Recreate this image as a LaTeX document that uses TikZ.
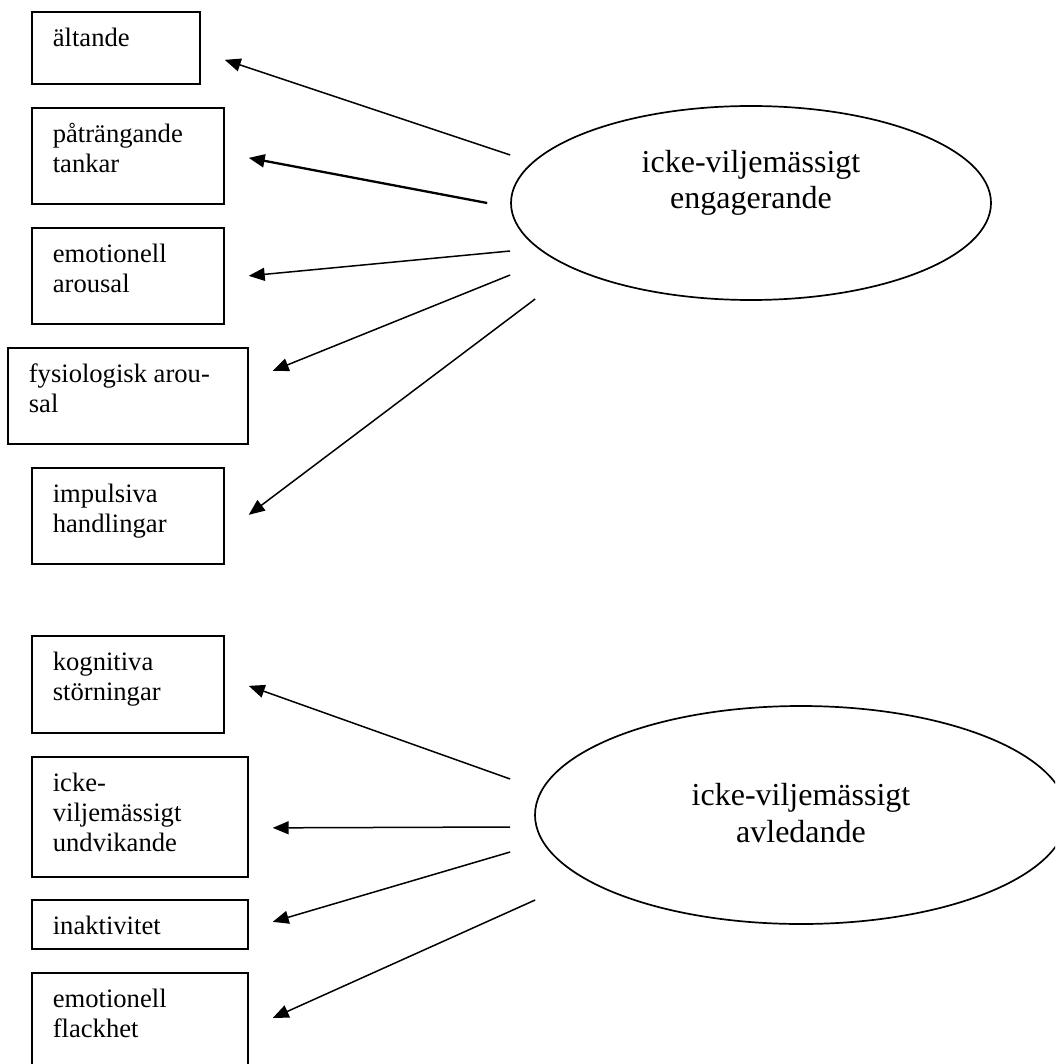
\documentclass[tikz,border=0pt]{standalone}
\usepackage{fontspec}
\setmainfont{Liberation Serif}
\usetikzlibrary{arrows.meta,shapes.geometric}

\newcommand{\cell}[3]{\parbox[c][#2][t]{#1}{\raggedright\vspace*{14pt}\strut #3}}

\begin{document}
\begin{tikzpicture}[x=1pt,y=-1pt,line width=1.5pt,
  >={Triangle[length=16pt,width=13pt]},
  box/.style={draw,rectangle,anchor=north west,inner xsep=21pt,inner ysep=0pt,
    line width=1.7pt,font=\fontsize{26.6}{30}\selectfont},
  oval/.style={draw,ellipse,inner sep=0pt,line width=1.7pt},
  ovaltext/.style={align=center,font=\fontsize{32}{36.5}\selectfont}]
\useasboundingbox (0,0) rectangle (1055,1064);
\clip (0,0) rectangle (1055,1064);

\node[box] (s_1) at (31,11)  {\cell{126pt}{72pt}{ältande}};
\node[box] (s_2) at (31,107) {\cell{150pt}{96pt}{påträngande\\tankar}};
\node[box] (s_3) at (31,227) {\cell{150pt}{96pt}{emotionell\\arousal}};
\node[box] (s_4) at (7,347)  {\cell{198pt}{96pt}{fysiologisk arou-\\sal}};
\node[box] (s_5) at (31,467) {\cell{150pt}{96pt}{impulsiva\\handlingar}};

\node[box] (s_6) at (31,635) {\cell{150pt}{97pt}{kognitiva\\störningar}};
\node[box] (s_7) at (31,756) {\cell{174pt}{120pt}{icke-\\viljemässigt\\undvikande}};
\node[box] (s_8) at (31,899) {\cell{174pt}{49pt}{inaktivitet}};
\node[box] (s_9) at (31,972) {\cell{174pt}{150pt}{emotionell\\flackhet}};

\node[oval,minimum width=480pt,minimum height=194pt] (e_1) at (751,203) {};
\node[ovaltext] at ([yshift=20pt]e_1.center) {icke-viljemässigt\\engagerande};
\node[oval,minimum width=532pt,minimum height=218pt] (e_2) at (801,815) {};
\node[ovaltext] at ([yshift=2pt]e_2.center) {icke-viljemässigt\\avledande};

\path[->]
([shift={(0,-48)}]e_1.west) edge ([shift={(24,12)}]s_1.east)
([shift={(-23,0)}]e_1.west) edge [line width=2.3pt] ([shift={(24,2)}]s_2.east)
([shift={(0,48)}]e_1.west) edge ([shift={(24,0)}]s_3.east)
([shift={(0,72)}]e_1.west) edge ([shift={(24,-25)}]s_4.east)
([shift={(25,96)}]e_1.west) edge ([shift={(24,-1)}]s_5.east)

([shift={(-24,-36)}]e_2.west) edge ([shift={(24,1.5)}]s_6.east)
([shift={(-24,12)}]e_2.west) edge ([shift={(24,11)}]s_7.east)
([shift={(-24,37)}]e_2.west) edge ([shift={(24,-2.5)}]s_8.east)
([shift={(1,85)}]e_2.west) edge ([shift={(24,46)}]s_9.north east)
; %end path
\end{tikzpicture}
\end{document}
